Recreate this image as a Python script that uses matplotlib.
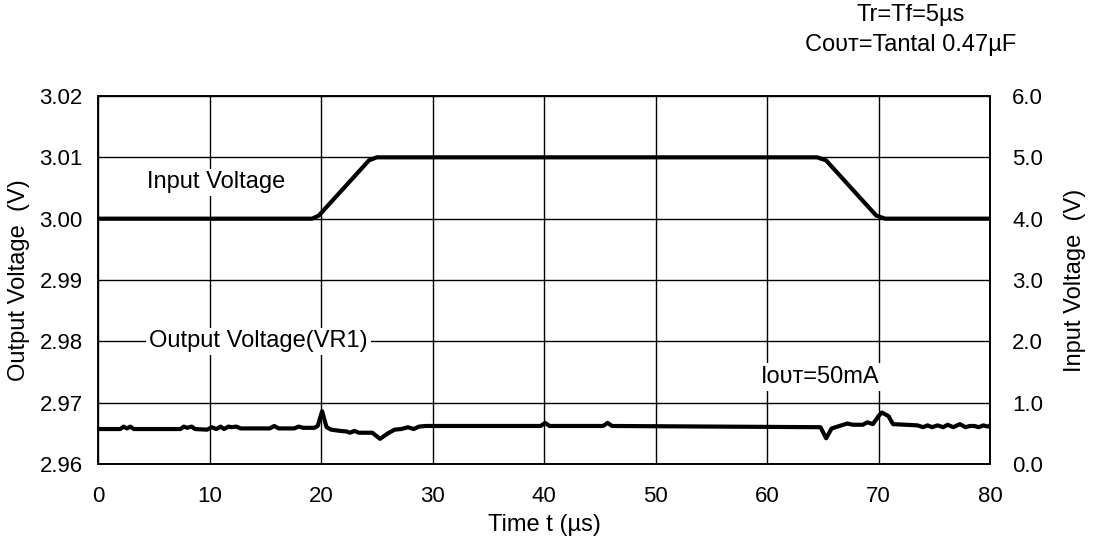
import numpy as np
import matplotlib
matplotlib.use("Agg")
import matplotlib.pyplot as plt

plt.rcParams['font.family'] = ['Liberation Sans', 'DejaVu Sans']

# output voltage trace (left axis, V)
out_t = [0, 2.0, 2.3, 2.6, 2.9, 3.2, 7.4, 7.7, 8.0, 8.4, 8.7, 9.8, 10.2, 10.6,
         11.0, 11.3, 11.7, 12.0, 12.4, 12.8, 13.1, 15.4, 15.8, 16.2, 17.6, 18.0,
         18.4, 19.4, 19.7, 20.1, 20.5, 20.9, 21.7, 22.3, 22.6, 23.0, 23.4, 24.6,
         25.3, 26.0, 26.6, 27.2, 27.8, 28.3, 28.8, 29.4, 39.7, 40.1, 40.5, 45.3,
         45.7, 46.1, 64.8, 65.3, 65.8, 66.5, 67.2, 67.7, 68.6, 69.0, 69.5, 70.0,
         70.3, 70.9, 71.3, 73.5, 74.0, 74.4, 74.8, 75.3, 75.8, 76.2, 76.7, 77.3,
         77.8, 78.2, 78.6, 79.0, 79.4, 79.8, 80.0]
out_v = [2.9657, 2.9657, 2.9661, 2.9658, 2.9661, 2.9657, 2.9657, 2.9661, 2.9659,
         2.9661, 2.9657, 2.9656, 2.9660, 2.9657, 2.9661, 2.9657, 2.9661, 2.9660,
         2.9661, 2.9658, 2.9658, 2.9658, 2.9662, 2.9658, 2.9658, 2.9661, 2.9659,
         2.9659, 2.9662, 2.9686, 2.9660, 2.9656, 2.9654, 2.9653, 2.9651, 2.9654,
         2.9651, 2.9651, 2.9641, 2.9650, 2.9656, 2.9657, 2.9660, 2.9657, 2.9661,
         2.9662, 2.9662, 2.9667, 2.9662, 2.9662, 2.9667, 2.9662, 2.9660, 2.9642,
         2.9658, 2.9662, 2.9666, 2.9664, 2.9664, 2.9668, 2.9665, 2.9678, 2.9684,
         2.9678, 2.9665, 2.9663, 2.9660, 2.9663, 2.9660, 2.9663, 2.9660, 2.9664,
         2.9660, 2.9665, 2.9660, 2.9662, 2.9662, 2.9660, 2.9663, 2.9661, 2.9663]

# input voltage (right axis, V)
in_t = [0, 19.2, 19.8, 24.3, 25.0, 64.5, 65.3, 69.8, 70.6, 80]
in_v = [4.0, 4.0, 4.05, 4.95, 5.0, 5.0, 4.95, 4.05, 4.0, 4.0]

x_ticks = np.arange(0, 81, 10)
left_ticks = [2.96, 2.97, 2.98, 2.99, 3.00, 3.01, 3.02]
right_ticks = [0, 1, 2, 3, 4, 5, 6]

fig = plt.figure(figsize=(10.99, 5.55), dpi=100)
ax = fig.add_axes([98/1099, 1-464/555, 892/1099, 368/555])
ax2 = ax.twinx()

ax.plot(out_t, out_v, color='black', lw=3, solid_joinstyle='round')
ax2.plot(in_t, in_v, color='black', lw=3, solid_joinstyle='round')

ax.set_xlim(0, 80)
ax.set_ylim(2.96, 3.02)
ax2.set_ylim(0, 6)
ax.set_xticks(x_ticks)
ax.set_yticks(left_ticks)
ax.set_yticklabels([f"{v:.2f}" for v in left_ticks])
ax2.set_yticks(right_ticks)
ax2.set_yticklabels([f"{v:.1f}" for v in right_ticks])
ax.grid(True, color='black', lw=1)

fs = 17
tfs = 16
ax.tick_params(axis='y', length=0, pad=11, labelsize=tfs)
ax.tick_params(axis='x', length=0, pad=16, labelsize=tfs)
ax2.tick_params(length=0, pad=16, labelsize=tfs)
for a in (ax, ax2):
    for s in a.spines.values():
        s.set_linewidth(1.2)

ax.set_xlabel("Time t (µs)", fontsize=fs, labelpad=5)
ax.set_ylabel("Output Voltage  (V)", fontsize=fs, labelpad=7)
ax2.set_ylabel("Input Voltage  (V)", fontsize=fs, labelpad=15)

box = dict(facecolor='white', edgecolor='none', pad=2)
ax.text(10.6, 3.0059, "Input Voltage", fontsize=fs, ha='center', va='center', bbox=box, zorder=5)
ax.text(14.4, 2.98, "Output Voltage(VR1)", fontsize=fs, ha='center', va='center', bbox=box, zorder=5)
ax.text(64.8, 2.9742, "Iᴏᴜᴛ=50mA", fontsize=fs, ha='center', va='center', bbox=box, zorder=5)

fig.text(911/1099, 1-15/555, "Tr=Tf=5µs", fontsize=fs, ha='center', va='center')
fig.text(911/1099, 1-45/555, "Cᴏᴜᴛ=Tantal 0.47µF", fontsize=fs, ha='center', va='center')

fig.savefig("out.png", dpi=100)
